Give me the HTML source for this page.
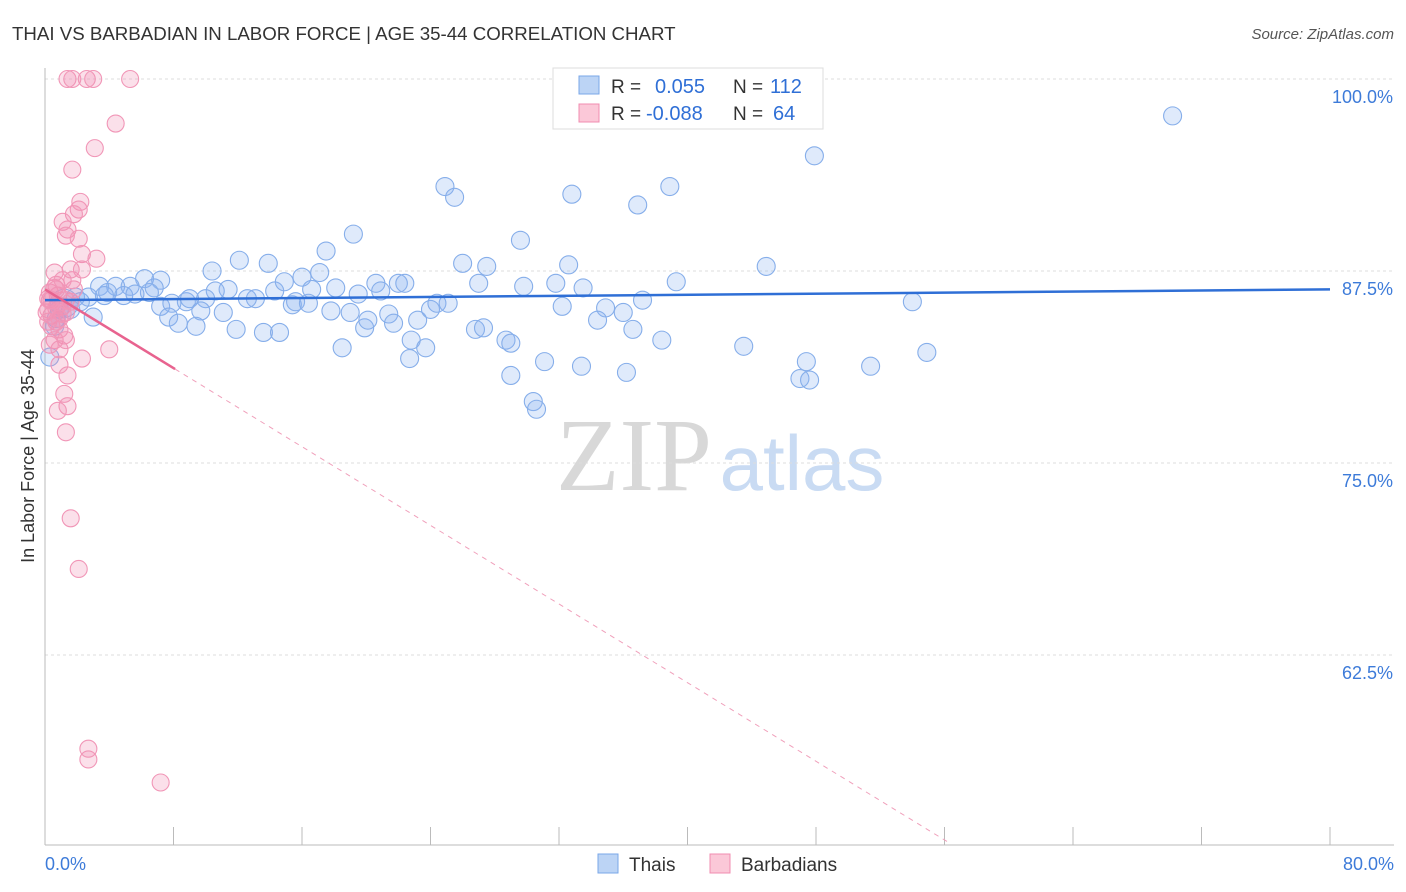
<!DOCTYPE html>
<html><head><meta charset="utf-8">
<style>
body{margin:0;background:#fff;font-family:"Liberation Sans",sans-serif;}
svg{display:block}
</style></head><body>
<svg id="chart" width="1406" height="892">
<text x="12" y="40" font-size="18.7" fill="#333">THAI VS BARBADIAN IN LABOR FORCE | AGE 35-44 CORRELATION CHART</text>
<text x="1394" y="39" font-size="15" fill="#555" font-style="italic" text-anchor="end">Source: ZipAtlas.com</text>
<text x="634" y="490" font-size="104" fill="#d8d8d8" font-family="Liberation Serif, serif" text-anchor="middle">ZIP</text>
<text x="802" y="490" font-size="78" fill="#c9dbf3" text-anchor="middle">atlas</text>
<text x="34" y="456" font-size="18" fill="#333" text-anchor="middle" transform="rotate(-90 34 456)">In Labor Force | Age 35-44</text>
<g id="grid"></g><g id="pts"></g><g id="lines"></g>
<g>
<rect x="553" y="68" width="270" height="61" fill="#fff" stroke="#ddd"/>
<rect x="579" y="76" width="20" height="18" fill="#bcd4f5" stroke="#7aa7e8"/>
<rect x="579" y="104" width="20" height="18" fill="#fbc8d8" stroke="#f08cb0"/>
<text x="611" y="93" font-size="19" fill="#333">R = </text><text x="655" y="93" font-size="20" fill="#2f6fd6">0.055</text>
<text x="733" y="93" font-size="19" fill="#333">N = </text><text x="770" y="93" font-size="20" fill="#2f6fd6">112</text>
<text x="611" y="120" font-size="19" fill="#333">R = </text><text x="646" y="120" font-size="20" fill="#2f6fd6">-0.088</text>
<text x="733" y="120" font-size="19" fill="#333">N = </text><text x="773" y="120" font-size="20" fill="#2f6fd6">64</text>
</g>
<g>
<rect x="598" y="854" width="20" height="19" fill="#bcd4f5" stroke="#7aa7e8"/>
<text x="629" y="871" font-size="19" fill="#333">Thais</text>
<rect x="710" y="854" width="20" height="19" fill="#fbc8d8" stroke="#f08cb0"/>
<text x="741" y="871" font-size="19" fill="#333">Barbadians</text>
</g>
</svg>
<script>
const blueX=[70.2,47.9,24.9,25.5,32.8,38.9,36.9,19.2,29.6,17.5,12.1,13.9,10.4,26.0,27.5,32.6,44.9,17.1,16.0,6.2,7.2,3.4,4.4,5.3,3.9,1.9,2.7,4.9,6.8,6.5,5.6,11.4,10.6,13.1,12.6,14.3,14.9,16.6,20.6,20.9,22.0,22.4,19.5,18.1,29.8,31.8,33.5,39.3,27.0,7.2,7.9,8.8,9.0,10.0,9.7,11.1,7.7,8.3,9.4,11.9,13.6,14.6,15.4,15.6,16.4,17.8,19.0,19.9,20.1,21.4,21.7,23.2,24.0,24.4,25.1,26.8,27.3,28.7,29.0,22.8,22.7,23.7,18.5,37.2,34.9,34.4,36.0,36.6,32.2,38.4,31.1,33.4,36.2,29.0,30.4,30.6,43.5,47.4,47.0,47.6,51.4,54.9,54.0,3.0,0.9,1.6,0.6,0.3,1.2,0.7,3.7,2.2];
const blueY=[97.6,95.0,93.0,92.3,92.5,93.0,91.8,89.9,89.5,88.8,88.2,88.0,87.5,88.0,87.8,87.9,87.8,87.4,87.1,87.0,86.9,86.5,86.5,86.5,86.1,85.8,85.8,85.9,86.4,86.1,86.0,86.3,86.2,85.7,85.7,86.2,86.8,86.3,86.7,86.2,86.7,86.7,86.0,86.4,86.5,86.7,86.4,86.8,86.7,85.2,85.4,85.5,85.7,85.7,84.9,84.8,84.5,84.1,83.9,83.7,83.5,83.5,85.3,85.5,85.4,84.9,84.8,83.8,84.3,84.7,84.1,84.3,85.0,85.4,85.4,83.7,83.8,83.0,82.8,83.0,81.8,82.5,82.5,85.6,85.1,84.3,84.8,83.7,85.2,83.0,81.6,81.3,80.9,80.7,79.0,78.5,82.6,81.6,80.5,80.4,81.3,82.2,85.5,84.5,85.0,85.0,83.9,81.9,85.4,84.4,85.9,85.5];
const pinkX=[1.4,1.7,2.6,3.0,5.3,4.4,3.1,1.7,2.2,2.1,1.8,1.1,1.4,1.3,2.1,2.3,3.2,0.6,1.6,2.3,0.7,0.3,0.4,0.8,1.1,0.2,0.4,0.7,0.9,1.2,1.3,0.2,0.6,0.9,2.3,4.0,0.9,1.4,1.2,1.4,0.8,1.3,1.6,2.1,2.7,2.7,7.2,0.7,0.4,0.8,1.1,1.3,0.1,0.6,1.6,1.8,1.7,0.9,0.3,1.3,0.7,1.1,0.2,0.3];
const pinkY=[100,100,100,100,100,97.1,95.5,94.1,92.0,91.5,91.2,90.7,90.2,89.8,89.6,88.6,88.3,87.4,87.6,87.6,86.6,86.1,85.6,85.9,85.2,85.0,84.6,84.2,83.7,83.3,84.8,84.2,83.0,82.4,81.8,82.4,81.4,80.7,79.5,78.7,78.4,77.0,71.4,68.1,56.4,55.7,54.2,85.1,83.9,85.3,84.7,85.6,84.8,86.4,85.5,86.3,86.9,84.4,82.7,83.0,86.3,86.9,85.7,85.6];
const blueTrend=[85.6,86.3]; // y at x=0 and x=80
const pinkTrend=[86.3,-0.64]; // intercept, slope
const pinkSolidEnd=8.1, pinkDashEnd=56.2;
const yTicks=[100,87.5,75,62.5];
const xTickCount=10;

const sx=v=>45+v/80*1285;
const sy=v=>79+(100-v)/12.5*192;
const NS="http://www.w3.org/2000/svg";
function mk(tag,attrs,parent){const e=document.createElementNS(NS,tag);for(const k in attrs)e.setAttribute(k,attrs[k]);parent.appendChild(e);return e;}
const grid=document.getElementById('grid'),pts=document.getElementById('pts'),lines=document.getElementById('lines');
yTicks.forEach(t=>{
  const l=mk('line',{x1:45,x2:1394,y1:sy(t),y2:sy(t),stroke:'#ddd','stroke-dasharray':'3,3'},grid);
  
  
  const tx=mk('text',{x:1393,y:sy(t)+24,'font-size':18,fill:'#3d7bd9','text-anchor':'end'},grid);
  tx.textContent=t.toFixed(1)+'%';
  
  
});
const ax=mk('line',{x1:45,x2:45,y1:68,y2:845,stroke:'#bbb'},grid);


const bx=mk('line',{x1:45,x2:1394,y1:845,y2:845,stroke:'#bbb'},grid);


for(let i=1;i<=xTickCount;i++){
  const t=mk('line',{x1:sx(i*8),x2:sx(i*8),y1:827,y2:845,stroke:'#bbb'},grid);
  
  
}
[[0,'start',45],[80,'end',1394]].forEach(([v,a,x])=>{
  const tx=mk('text',{x:x,y:870,'font-size':18,fill:'#3d7bd9','text-anchor':a},grid);
  tx.textContent=v.toFixed(1)+'%';
  
  
});
blueX.forEach((x,i)=>{
  const c=mk('circle',{cx:sx(x),cy:sy(blueY[i]),r:(i==108?14:9),fill:'rgba(140,180,240,0.28)',stroke:'#86aeea','stroke-width':1.1},pts);
  
  
});
pinkX.forEach((x,i)=>{
  const c=mk('circle',{cx:sx(x),cy:sy(pinkY[i]),r:8.5,fill:'rgba(242,145,180,0.28)',stroke:'#f196b7','stroke-width':1.1},pts);
  
  
});
const bl=mk('line',{x1:sx(0),y1:sy(blueTrend[0]),x2:sx(80),y2:sy(blueTrend[1]),stroke:'#2f6fd6','stroke-width':2.5},lines);


const pf=x=>pinkTrend[0]+pinkTrend[1]*x;
const ps=mk('line',{x1:sx(0),y1:sy(pf(0)),x2:sx(pinkSolidEnd),y2:sy(pf(pinkSolidEnd)),stroke:'#e8638f','stroke-width':2.5},lines);


const pd=mk('line',{x1:sx(pinkSolidEnd),y1:sy(pf(pinkSolidEnd)),x2:sx(pinkDashEnd),y2:sy(pf(pinkDashEnd)),stroke:'#f0a0bb','stroke-width':1,'stroke-dasharray':'5,5'},lines);


</script>
</body></html>
